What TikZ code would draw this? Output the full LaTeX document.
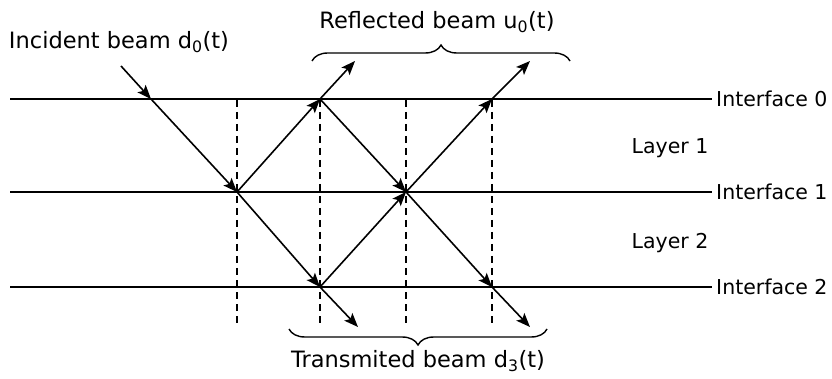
\documentclass[tikz,border=0pt]{standalone}
\usepackage{fontspec}
\setmainfont{DejaVu Sans}
\usetikzlibrary{arrows.meta,decorations.pathreplacing}
\begin{document}
\begin{tikzpicture}[x=1pt,y=-1pt,
  iface/.style={line width=2.8pt},
  beam/.style={line width=1.6pt,-{Stealth[length=14pt,width=11pt,inset=3pt]}},
  guide/.style={line width=1.5pt,dash pattern=on 7pt off 5pt},
  lbl/.style={font=\fontsize{20.5}{24}\selectfont,inner sep=0pt},
  big/.style={font=\fontsize{22.5}{26}\selectfont,inner sep=0pt},
  brc/.style={line width=1.4pt,decorate,decoration={brace,amplitude=16pt}}]
\useasboundingbox (0,0) rectangle (832,379);
% interfaces
\coordinate (L0) at (10,99);  \coordinate (E0) at (712,99);
\coordinate (L1) at (10,192); \coordinate (E1) at (712,192);
\coordinate (L2) at (10,287); \coordinate (E2) at (712,287);
\draw[iface] (L0) -- (E0);
\draw[iface] (L1) -- (E1);
\draw[iface] (L2) -- (E2);
\node[lbl,anchor=west] (i0) at (716,99) {Interface 0};
\node[lbl,anchor=west] (i1) at (716,192) {Interface 1};
\node[lbl,anchor=west] (i2) at (716,287) {Interface 2};
\node[lbl] (l1) at (670,148) {Layer 1};
\node[lbl] (l2) at (670,243) {Layer 2};
% dashed guides
\foreach \x/\n in {237/a,320/b,406/c,492/d}{
  \coordinate (g\n1) at (\x,100);
  \coordinate (g\n2) at (\x,323);
  \draw[guide] (g\n1) -- (g\n2);
}
% beam points
\coordinate (A0) at (121,66);
\coordinate (P1) at (151,99);
\coordinate (P2) at (237,192);
\coordinate (P3) at (320,287);
\coordinate (T1) at (358,327);
\coordinate (P4) at (320,99);
\coordinate (R1) at (355,61);
\coordinate (P5) at (406,192);
\coordinate (P6) at (492,99);
\coordinate (R2) at (530,61);
\coordinate (P7) at (492,287);
\coordinate (T2) at (530,327);
\draw[beam] (A0) -- (P1);
\draw[beam] (P1) -- (P2);
\draw[beam] (P2) -- (P3);
\draw[beam] (P3) -- (T1);
\draw[beam] (P2) -- (P4);
\draw[beam] (P4) -- (R1);
\draw[beam] (P4) -- (P5);
\draw[beam] (P3) -- (P5);
\draw[beam] (P5) -- (P6);
\draw[beam] (P6) -- (R2);
\draw[beam] (P5) -- (P7);
\draw[beam] (P7) -- (T2);
% braces
\coordinate (B1) at (312,61); \coordinate (B2) at (570,61);
\draw[brc] (B1) -- (B2);
\coordinate (C1) at (547,329); \coordinate (C2) at (289,329);
\draw[brc] (C1) -- (C2);
% labels
\node[big] (inc) at (119,42) {Incident beam d\textsubscript{0}(t)};
\node[big] (ref) at (437,22) {Reflected beam u\textsubscript{0}(t)};
\node[big] (tra) at (418,361) {Transmited beam d\textsubscript{3}(t)};
\end{tikzpicture}
\end{document}
